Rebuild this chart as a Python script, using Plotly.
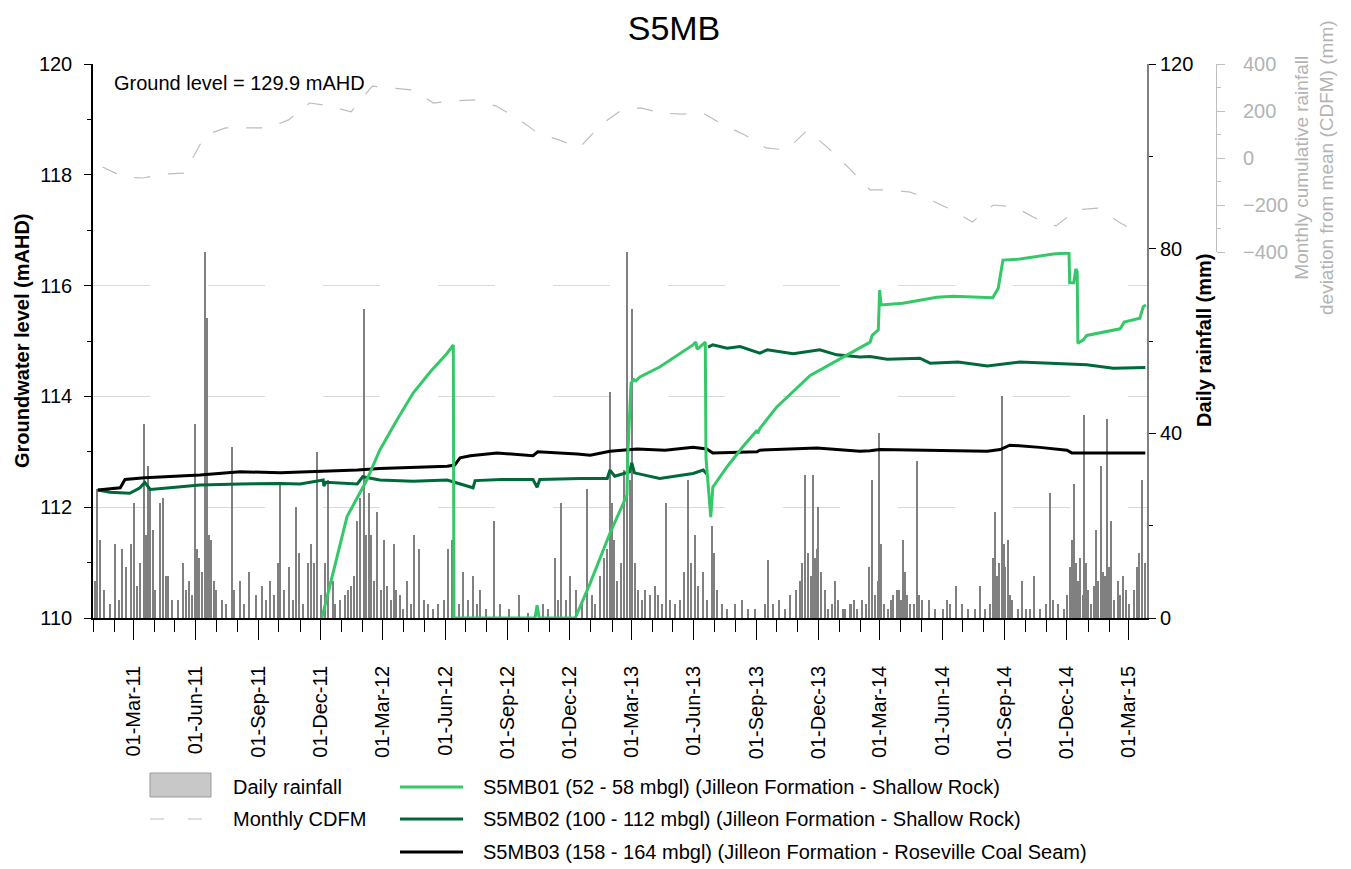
import pandas as pd
import plotly.graph_objects as go

START = pd.Timestamp("2011-01-01")
END_DAY = 1547.5

# ---------------- data ----------------
# daily rainfall: day number since 2011-01-01 and rainfall (mm)
rain_day = [3, 6, 10, 16, 25, 32, 38, 43, 48, 56, 60, 65, 69, 75, 78, 81, 84, 88, 92, 98,
            103, 107, 110, 116, 125, 132, 137, 141, 145, 150, 153, 156, 160, 164, 167, 170, 173, 178, 181, 189,
            195, 204, 208, 216, 222, 230, 239, 248, 254, 260, 266, 272, 275, 280, 288, 294, 298, 302, 308, 316,
            320, 325, 329, 335, 341, 346, 352, 355, 363, 370, 374, 379, 383, 388, 392, 398, 401, 405, 408, 413,
            417, 423, 427, 432, 438, 442, 445, 451, 455, 461, 467, 471, 479, 486, 492, 499, 507, 515, 521, 527,
            531, 537, 543, 551, 558, 564, 568, 577, 589, 598, 611, 625, 639, 661, 668, 678, 683, 687, 694, 700,
            709, 718, 725, 733, 738, 744, 750, 755, 759, 762, 765, 769, 775, 780, 785, 788, 791, 796, 800, 806,
            810, 818, 825, 830, 835, 841, 847, 855, 862, 868, 874, 878, 884, 888, 896, 902, 909, 912, 916, 924,
            931, 943, 953, 962, 972, 987, 991, 998, 1007, 1016, 1023, 1032, 1038, 1041, 1045, 1050, 1054, 1057, 1060, 1063,
            1064, 1069, 1075, 1079, 1086, 1089, 1094, 1101, 1104, 1111, 1113, 1117, 1122, 1130, 1135, 1139, 1144, 1148, 1153, 1155,
            1157, 1161, 1167, 1172, 1175, 1180, 1183, 1186, 1189, 1192, 1195, 1200, 1205, 1210, 1213, 1217, 1227, 1236, 1248, 1254,
            1258, 1268, 1276, 1285, 1295, 1302, 1310, 1317, 1321, 1324, 1327, 1330, 1335, 1338, 1340, 1343, 1346, 1349, 1358, 1364,
            1370, 1376, 1382, 1390, 1399, 1405, 1410, 1417, 1426, 1431, 1434, 1437, 1440, 1443, 1446, 1449, 1454, 1455, 1458, 1461,
            1465, 1470, 1473, 1476, 1480, 1483, 1486, 1489, 1492, 1495, 1499, 1505, 1508, 1512, 1517, 1522, 1528, 1533, 1536, 1540,
            1545]
rain_mm = [8, 28, 17, 6, 3, 16, 4, 15, 11, 16, 25, 7, 12, 42, 18, 33, 28, 19, 6, 25,
           26, 9, 9, 4, 4, 12, 6, 8, 5, 42, 15, 13, 10, 86, 65, 18, 17, 8, 6, 4,
           3, 37, 6, 8, 3, 10, 5, 7, 4, 8, 5, 12, 29, 6, 11, 4, 24, 14, 3, 12,
           16, 12, 36, 5, 12, 30, 8, 3, 4, 5, 6, 7, 9, 21, 26, 67, 18, 27, 18, 8,
           23, 6, 17, 7, 4, 16, 6, 5, 2, 8, 3, 18, 15, 4, 3, 2, 3, 4, 15, 17,
           5, 3, 10, 4, 9, 3, 6, 2, 21, 3, 2, 5, 1, 3, 2, 13, 4, 25, 4, 9,
           6, 3, 28, 5, 3, 9, 13, 15, 49, 25, 17, 8, 12, 32, 103, 30, 67, 12, 6, 4,
           6, 5, 7, 5, 3, 25, 4, 3, 4, 10, 30, 12, 18, 7, 10, 4, 20, 14, 6, 3,
           2, 3, 4, 2, 2, 3, 12.5, 3, 4, 2, 5, 6, 8, 12, 31, 14, 9, 31, 13, 15,
           24, 10, 6, 2, 3, 8, 4, 2, 2, 3, 3, 4, 2, 4, 3, 11, 30, 5, 8, 40,
           16, 3, 2, 4, 5, 6, 6, 4, 17, 10, 5, 3, 3, 34, 5, 4, 4, 2, 2, 4,
           3, 7, 3, 2, 2, 7, 2, 3, 13, 23, 9, 12, 48, 16, 11, 17, 5, 4, 2, 8,
           2, 2, 9, 2, 3, 27, 4, 3, 2, 5, 11, 17, 29, 12, 8, 13, 5, 44, 12, 6,
           3, 7, 19, 8, 33, 10, 9, 43, 11, 21, 4, 8, 5, 9, 6, 3, 6, 11, 14, 30,
           12]

# S5MB01 (light green) groundwater level (mAHD)
s1_day = [336, 355, 373, 402, 421, 446, 470, 495, 520, 529, 530, 649, 652, 655, 708,
          730, 759, 784, 785, 790, 794, 797, 803, 832, 881, 885, 887, 899, 900, 907,
          910, 931, 954, 975, 976, 979, 1004, 1053, 1101, 1116, 1141, 1144, 1153, 1155, 1157,
          1189, 1239, 1263, 1288, 1321, 1329, 1336, 1361, 1410, 1433, 1434, 1440, 1443, 1445, 1446,
          1454, 1459, 1508, 1514, 1537, 1542, 1546]
s1_lvl = [110.0, 110.95, 111.83, 112.49, 113.03, 113.57, 114.06, 114.44, 114.78, 114.93, 110.0, 110.0, 110.23, 110.0, 110.0,
          110.63, 111.53, 112.22, 112.90, 114.24, 114.30, 114.28, 114.35, 114.53, 114.93, 114.98, 114.85, 114.98, 112.89, 111.82,
          112.36, 112.73, 113.09, 113.39, 113.33, 113.42, 113.81, 114.38, 114.71, 114.80, 114.98, 115.10, 115.20, 115.92, 115.65,
          115.68, 115.79, 115.81, 115.80, 115.78, 115.95, 116.46, 116.48, 116.57, 116.59, 116.05, 116.05, 116.30, 116.25, 114.96,
          115.02, 115.10, 115.22, 115.34, 115.41, 115.62, 115.65]

# S5MB02 (dark green)
s2_day = [7, 25, 54, 69, 76, 84, 113, 157, 216, 275, 304, 338, 339, 342, 388, 396, 421, 470, 520, 558,
          561, 600, 646, 652, 656, 715, 755, 759, 766, 788, 791, 795, 832, 881, 896, 901, 902,
          903, 910, 931, 950, 979, 990, 1028, 1067, 1092, 1126, 1141, 1166, 1214, 1229, 1270, 1313, 1361, 1410,
          1459, 1498, 1545]
s2_lvl = [112.31, 112.27, 112.25, 112.35, 112.45, 112.32, 112.35, 112.40, 112.42, 112.43, 112.42, 112.49, 112.38, 112.45, 112.42, 112.55, 112.49, 112.47, 112.49, 112.35,
          112.48, 112.50, 112.50, 112.36, 112.50, 112.52, 112.52, 112.67, 112.56, 112.64, 112.80, 112.62, 112.52, 112.61, 112.67, 112.60, None,
          114.89, 114.93, 114.87, 114.90, 114.78, 114.84, 114.77, 114.84, 114.75, 114.71, 114.72, 114.67, 114.69, 114.60, 114.62, 114.55, 114.62, 114.60,
          114.57, 114.51, 114.52]

# S5MB03 (black)
s3_day = [7, 40, 47, 76, 157, 216, 275, 388, 421, 520, 531, 539, 554, 593, 646, 653, 711, 730, 759, 799,
          840, 881, 901, 910, 975, 979, 1063, 1126, 1141, 1155, 1313, 1332, 1346, 1390, 1430, 1437, 1545]
s3_lvl = [112.31, 112.35, 112.50, 112.53, 112.58, 112.64, 112.62, 112.67, 112.70, 112.74, 112.76, 112.89, 112.93, 112.98, 112.93, 113.00, 112.96, 112.94, 113.01, 113.05,
          113.03, 113.08, 113.05, 112.98, 113.00, 113.03, 113.07, 113.01, 113.02, 113.04, 113.01, 113.04, 113.12, 113.08, 113.03, 112.98, 112.98]

# Monthly CDFM (mm), Jan-2011 .. Mar-2015
cdfm_start_month = "2011-01"
cdfm_mm = [-38, -81, -85, -68, -64, 98, 128, 128, 128, 162, 234, 221,
           196, 306, 298, 289, 234, 243, 247, 221, 170, 106, 77, 43,
           140, 204, 213, 191, 187, 191, 140, 98, 43, 34, 119, 43,
           -43, -136, -136, -145, -179, -221, -272, -200, -208, -255, -289, -221,
           -213, -272, -319]

names = ["S5MB01 (52 - 58 mbgl) (Jilleon Formation - Shallow Rock)",
         "S5MB02 (100 - 112 mbgl) (Jilleon Formation - Shallow Rock)",
         "S5MB03 (158 - 164 mbgl) (Jilleon Formation - Roseville Coal Seam)"]
colors = ["#35C869", "#00693A", "#000000"]


def to_dates(days):
    return [START + pd.Timedelta(days=float(v)) for v in days]


cdfm_dates = list(pd.date_range(cdfm_start_month + "-01", periods=len(cdfm_mm), freq="MS") + pd.Timedelta(days=14))

FONT = "Arial, Liberation Sans, sans-serif"
OFF = 8  # page body margin offset
W, H = 1351 - OFF, 869 - OFF
L, T = 93 - OFF, 64 - OFF
PLOT_R, PLOT_B = 1147 - OFF, 618 - OFF
R = W - (1216 - OFF)
B = H - PLOT_B
PW = W - L - R
PH = H - T - B
XDOM = (PLOT_R - L) / PW


def px(X):
    return (X - OFF - L) / PW


def py(Y):
    return (T + PH - (Y - OFF)) / PH


fig = go.Figure()

fig.add_trace(go.Bar(x=to_dates(rain_day), y=rain_mm, width=86400000 * 2.0,
                     marker=dict(color="#808080", line=dict(width=0)),
                     xaxis="x", yaxis="y", showlegend=False, name="Daily rainfall"))

fig.add_trace(go.Scatter(x=cdfm_dates, y=cdfm_mm, mode="lines",
                         line=dict(color="#BDBDBD", width=1.2, dash="16px,18px"),
                         xaxis="x", yaxis="y3", showlegend=False, name="Monthly CDFM"))

for dd, ll, nm, cc in [(s2_day, s2_lvl, names[1], colors[1]),
                       (s3_day, s3_lvl, names[2], colors[2]),
                       (s1_day, s1_lvl, names[0], colors[0])]:
    fig.add_trace(go.Scatter(x=to_dates(dd), y=ll, mode="lines", connectgaps=False,
                             line=dict(color=cc, width=3), xaxis="x", yaxis="y2",
                             showlegend=False, name=nm))

fig.update_layout(
    width=W, height=H,
    margin=dict(l=L, r=R, t=T, b=B, autoexpand=False),
    paper_bgcolor="white", plot_bgcolor="white",
    font=dict(family=FONT, size=20, color="black"),
    showlegend=False,
    bargap=0,
    title=dict(text="S5MB", font=dict(size=34, family=FONT, color="black"),
               xref="container", x=(674 - OFF) / W, xanchor="center",
               yref="container", y=1 - (28 - OFF) / H, yanchor="middle"),
    xaxis=dict(type="date", domain=[0, XDOM], anchor="y", automargin=False,
               range=[START, START + pd.Timedelta(days=END_DAY)],
               tick0="2011-03-01", dtick="M3", tickformat="%d-%b-%y", tickangle=-90,
               ticks="outside", ticklen=20, tickcolor="black", tickwidth=1,
               ticklabelstandoff=18,
               minor=dict(tick0="2011-01-01", dtick="M1", ticks="outside", ticklen=12,
                          tickcolor="black", showgrid=False),
               showline=True, linecolor="black", linewidth=1.5, showgrid=False,
               zeroline=False, tickfont=dict(size=20)),
    yaxis=dict(side="right", anchor="x", range=[0, 120], dtick=40, tick0=0, automargin=False,
               ticks="outside", ticklen=7, tickcolor="black",
               minor=dict(dtick=20, ticks="outside", ticklen=4, tickcolor="black", showgrid=False),
               showline=True, linecolor="#808080", linewidth=2, showgrid=False, zeroline=False,
               tickfont=dict(size=20, color="black")),
    yaxis2=dict(overlaying="y", side="left", anchor="x", range=[110, 120], dtick=2, tick0=110,
                automargin=False,
                ticks="outside", ticklen=7, tickcolor="black",
                minor=dict(dtick=1, ticks="outside", ticklen=4, tickcolor="black", showgrid=False),
                showline=True, linecolor="black", linewidth=1.5,
                showgrid=True, gridcolor="#D9D9D9", gridwidth=1, griddash="57px,58px",
                zeroline=False, tickfont=dict(size=20, color="black"), ticklabelstandoff=8),
    yaxis3=dict(domain=[py(252), 1], anchor="free", position=1.0, side="right", automargin=False,
                range=[-400, 400], dtick=200, tick0=0,
                ticks="outside", ticklen=8, tickcolor="#BFBFBF",
                minor=dict(dtick=100, ticks="outside", ticklen=4, tickcolor="#BFBFBF", showgrid=False),
                showline=True, linecolor="#BFBFBF", linewidth=1, showgrid=False, zeroline=False,
                tickfont=dict(size=20, color="#B3B3B3"), ticklabelstandoff=14),
)

ann = [
    dict(text="Ground level = 129.9 mAHD", x=px(112), y=py(83), xanchor="left", yanchor="middle",
         font=dict(size=20)),
    dict(text="<b>Groundwater level (mAHD)</b>", x=px(22), y=0.5, textangle=-90,
         xanchor="center", yanchor="middle", font=dict(size=20)),
    dict(text="<b>Daily rainfall (mm)</b>", x=px(1204), y=0.5, textangle=-90,
         xanchor="center", yanchor="middle", font=dict(size=20)),
    dict(text="Monthly cumulative rainfall<br>deviation from mean (CDFM) (mm)", x=px(1314), y=py(168),
         textangle=-90, xanchor="center", yanchor="middle", font=dict(size=19, color="#B3B3B3")),
    dict(text="Daily rainfall", x=px(231), y=py(787), xanchor="left", yanchor="middle", font=dict(size=20)),
    dict(text="Monthly CDFM", x=px(231), y=py(819), xanchor="left", yanchor="middle", font=dict(size=20)),
]
row_y = [787, 819, 852]
for nm, yy in zip(names, row_y):
    ann.append(dict(text=nm, x=px(481), y=py(yy), xanchor="left", yanchor="middle", font=dict(size=20)))
for a in ann:
    a.update(xref="paper", yref="paper", showarrow=False)
fig.update_layout(annotations=ann)

shapes = [
    dict(type="rect", x0=px(150), x1=px(211), y0=py(797), y1=py(773),
         fillcolor="#C8C8C8", line=dict(color="#999999", width=1)),
    dict(type="line", x0=px(150), x1=px(208), y0=py(819), y1=py(819),
         line=dict(color="#BDBDBD", width=1.2, dash="14px,24px")),
]
for cc, yy in zip(colors, row_y):
    shapes.append(dict(type="line", x0=px(400), x1=px(463), y0=py(yy), y1=py(yy),
                       line=dict(color=cc, width=3)))
for s in shapes:
    s.update(xref="paper", yref="paper")
fig.update_layout(shapes=shapes)

fig.write_html("out.html")
